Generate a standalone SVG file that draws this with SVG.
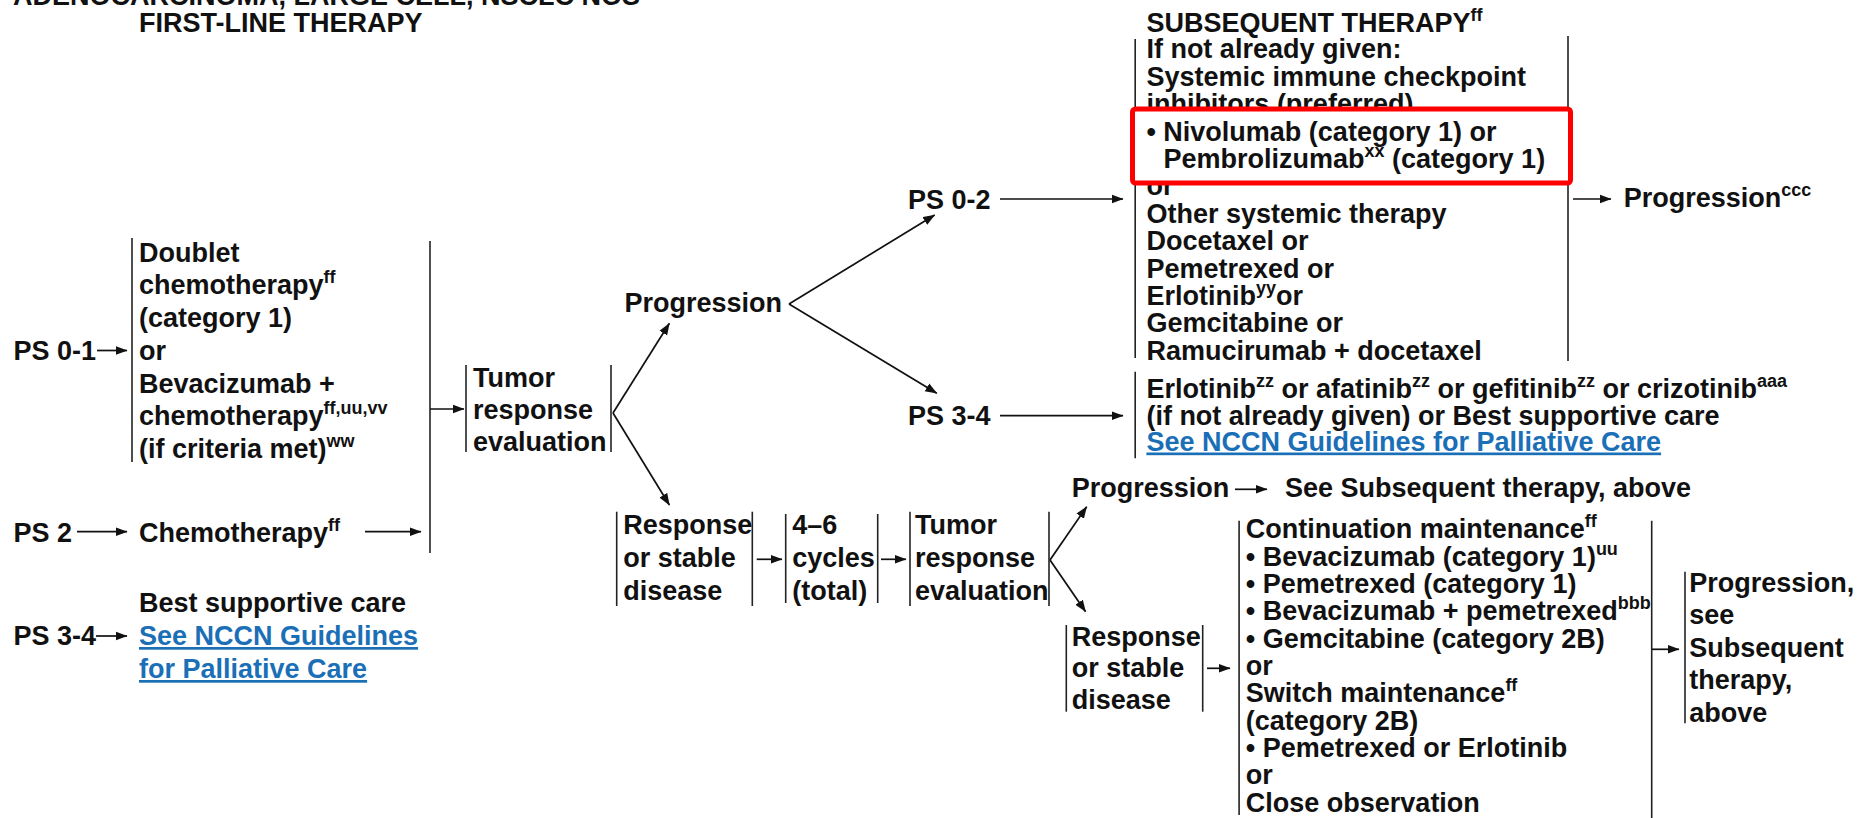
<svg xmlns="http://www.w3.org/2000/svg" width="1866" height="818" viewBox="0 0 1866 818">
<style>
text{font-family:"Liberation Sans",Arial,sans-serif;font-weight:bold;font-size:27px;fill:#111}
.sup{font-size:18px}
.lk{fill:#1b6fb6;text-decoration:underline}
.br{stroke:#222;stroke-width:1.6;fill:none}
.cn{stroke:#111;stroke-width:1.7;fill:none;marker-end:url(#ah)}
.fk{stroke:#111;stroke-width:1.7;fill:none}
</style>
<defs>
<marker id="ah" markerWidth="12" markerHeight="10" refX="11.5" refY="5" orient="auto" markerUnits="userSpaceOnUse">
<path d="M0,0.5 L12,5 L0,9.5 z" fill="#111"/>
</marker>
</defs>
<rect width="1866" height="818" fill="#fff"/>

<g id="title">
<text x="13" y="5">ADENOCARCINOMA, LARGE CELL, NSCLC NOS</text>
<text x="139" y="32">FIRST-LINE THERAPY</text>
</g>

<g id="ps01"><text x="13.5" y="359.8">PS 0-1</text></g>
<g id="ps2"><text x="13.5" y="541.7">PS 2</text></g>
<g id="ps34a"><text x="13.5" y="645">PS 3-4</text></g>

<g id="doublet">
<line class="br" x1="132" y1="238" x2="132" y2="462"/>
<text x="139" y="261.7">Doublet</text>
<text x="139" y="294.4">chemotherapy<tspan class="sup" dy="-11">ff</tspan></text>
<text x="139" y="327.1">(category 1)</text>
<text x="139" y="359.8">or</text>
<text x="139" y="392.5">Bevacizumab +</text>
<text x="139" y="425.2">chemotherapy<tspan class="sup" dy="-11">ff,uu,vv</tspan></text>
<text x="139" y="457.9">(if criteria met)<tspan class="sup" dy="-11">ww</tspan></text>
</g>

<g id="chemo">
<text x="139" y="541.7">Chemotherapy<tspan class="sup" dy="-11">ff</tspan></text>
</g>

<g id="bsc1">
<text x="139" y="611.7">Best supportive care</text>
<text class="lk" x="139" y="645">See NCCN Guidelines</text>
<text class="lk" x="139" y="678">for Palliative Care</text>
</g>

<g id="tumor1">
<line class="br" x1="466" y1="365" x2="466" y2="452"/>
<line class="br" x1="611" y1="365" x2="611" y2="452"/>
<text x="473" y="386.7">Tumor</text>
<text x="473" y="419">response</text>
<text x="473" y="451">evaluation</text>
</g>

<g id="prog1"><text x="624.5" y="311.7">Progression</text></g>
<g id="ps02"><text x="908" y="209.3">PS 0-2</text></g>
<g id="ps34b"><text x="908" y="425">PS 3-4</text></g>

<g id="response1">
<line class="br" x1="616.7" y1="511.7" x2="616.7" y2="606"/>
<line class="br" x1="752.3" y1="511.7" x2="752.3" y2="606"/>
<text x="623.3" y="534.3">Response</text>
<text x="623.3" y="567.3">or stable</text>
<text x="623.3" y="600">disease</text>
</g>

<g id="cycles">
<line class="br" x1="785.7" y1="514" x2="785.7" y2="603"/>
<line class="br" x1="877.7" y1="514" x2="877.7" y2="603"/>
<text x="792.3" y="534.3">4–6</text>
<text x="792.3" y="567.3">cycles</text>
<text x="792.3" y="600">(total)</text>
</g>

<g id="tumor2">
<line class="br" x1="910" y1="511.7" x2="910" y2="606"/>
<line class="br" x1="1049" y1="511.7" x2="1049" y2="606"/>
<text x="915" y="534.3">Tumor</text>
<text x="915" y="567.3">response</text>
<text x="915" y="600">evaluation</text>
</g>

<g id="prog2">
<text x="1071.7" y="496.7">Progression</text>
<text x="1285" y="496.7">See Subsequent therapy, above</text>
</g>

<g id="subsequent">
<text x="1146.4" y="31.7">SUBSEQUENT THERAPY<tspan class="sup" dy="-11">ff</tspan></text>
<line class="br" x1="1135.2" y1="39" x2="1135.2" y2="358"/>
<line class="br" x1="1568" y1="36" x2="1568" y2="361"/>
<text x="1146.4" y="58.3">If not already given:</text>
<text x="1146.4" y="85.7">Systemic immune checkpoint</text>
<text x="1146.4" y="113.1">inhibitors (preferred)</text>
<text x="1146.4" y="195.3">or</text>
<text x="1146.4" y="222.7">Other systemic therapy</text>
<text x="1146.4" y="250.1">Docetaxel or</text>
<text x="1146.4" y="277.5">Pemetrexed or</text>
<text x="1146.4" y="304.9">Erlotinib<tspan class="sup" dy="-11">yy</tspan><tspan dy="11">or</tspan></text>
<text x="1146.4" y="332.3">Gemcitabine or</text>
<text x="1146.4" y="359.7">Ramucirumab + docetaxel</text>
<rect x="1132.5" y="109" width="438" height="74" rx="3" fill="#fff" stroke="#f00" stroke-width="5"/>
<text x="1146.4" y="140.5">• Nivolumab (category 1) or</text>
<text x="1163.5" y="167.9">Pembrolizumab<tspan class="sup" dy="-11">xx</tspan><tspan dy="11"> (category 1)</tspan></text>
</g>

<g id="prog3">
<text x="1623.7" y="206.7">Progression<tspan class="sup" dy="-11">ccc</tspan></text>
</g>

<g id="ps34opts">
<line class="br" x1="1135.2" y1="371.7" x2="1135.2" y2="458.3"/>
<text x="1146.4" y="397.5">Erlotinib<tspan class="sup" dy="-11">zz</tspan><tspan dy="11"> or afatinib</tspan><tspan class="sup" dy="-11">zz</tspan><tspan dy="11"> or gefitinib</tspan><tspan class="sup" dy="-11">zz</tspan><tspan dy="11"> or crizotinib</tspan><tspan class="sup" dy="-11">aaa</tspan></text>
<text x="1146.4" y="424.5">(if not already given) or Best supportive care</text>
<text class="lk" x="1146.4" y="450.5">See NCCN Guidelines for Palliative Care</text>
</g>

<g id="response2">
<line class="br" x1="1066.3" y1="625" x2="1066.3" y2="711.7"/>
<line class="br" x1="1202.7" y1="625" x2="1202.7" y2="711.7"/>
<text x="1071.8" y="646">Response</text>
<text x="1071.8" y="677">or stable</text>
<text x="1071.8" y="708.5">disease</text>
</g>

<g id="maintenance">
<line class="br" x1="1239.1" y1="520.7" x2="1239.1" y2="815"/>
<line class="br" x1="1651.7" y1="520.7" x2="1651.7" y2="818"/>
<text x="1245.8" y="538.3">Continuation maintenance<tspan class="sup" dy="-11">ff</tspan></text>
<text x="1245.8" y="565.6">• Bevacizumab (category 1)<tspan class="sup" dy="-11">uu</tspan></text>
<text x="1245.8" y="593">• Pemetrexed (category 1)</text>
<text x="1245.8" y="620.3">• Bevacizumab + pemetrexed<tspan class="sup" dy="-11">bbb</tspan></text>
<text x="1245.8" y="647.7">• Gemcitabine (category 2B)</text>
<text x="1245.8" y="675">or</text>
<text x="1245.8" y="702.3">Switch maintenance<tspan class="sup" dy="-11">ff</tspan></text>
<text x="1245.8" y="729.7">(category 2B)</text>
<text x="1245.8" y="757">• Pemetrexed or Erlotinib</text>
<text x="1245.8" y="784.4">or</text>
<text x="1245.8" y="811.7">Close observation</text>
</g>

<g id="prog4">
<line class="br" x1="1685" y1="571.7" x2="1685" y2="723.3"/>
<text x="1689.3" y="591.5">Progression,</text>
<text x="1689.3" y="624">see</text>
<text x="1689.3" y="656.5">Subsequent</text>
<text x="1689.3" y="689">therapy,</text>
<text x="1689.3" y="721.5">above</text>
</g>

<g id="connectors">
<line class="cn" x1="97" y1="350.5" x2="127" y2="350.5"/>
<line class="cn" x1="77" y1="531.7" x2="127" y2="531.7"/>
<line class="cn" x1="96" y1="636" x2="127" y2="636"/>
<line class="cn" x1="365" y1="531.7" x2="421" y2="531.7"/>
<line class="br" x1="430" y1="241" x2="430" y2="553"/>
<line class="cn" x1="430" y1="409" x2="464" y2="409"/>
<line class="cn" x1="613" y1="413" x2="669.4" y2="323.3"/>
<line class="cn" x1="613" y1="413" x2="669.4" y2="505"/>
<line class="cn" x1="789" y1="304" x2="934.7" y2="215"/>
<line class="cn" x1="789" y1="304" x2="936.8" y2="393.3"/>
<line class="cn" x1="1000" y1="199" x2="1123" y2="199"/>
<line class="cn" x1="1000" y1="415.7" x2="1123" y2="415.7"/>
<line class="cn" x1="1573" y1="199" x2="1611" y2="199"/>
<line class="cn" x1="756.7" y1="559.3" x2="782" y2="559.3"/>
<line class="cn" x1="881" y1="559.3" x2="906" y2="559.3"/>
<line class="cn" x1="1050" y1="560" x2="1086.7" y2="506.7"/>
<line class="cn" x1="1050" y1="560" x2="1085.6" y2="611.7"/>
<line class="cn" x1="1235" y1="489.3" x2="1267" y2="489.3"/>
<line class="cn" x1="1207" y1="668.3" x2="1230" y2="668.3"/>
<line class="cn" x1="1652" y1="649.3" x2="1679" y2="649.3"/>
</g>
</svg>
